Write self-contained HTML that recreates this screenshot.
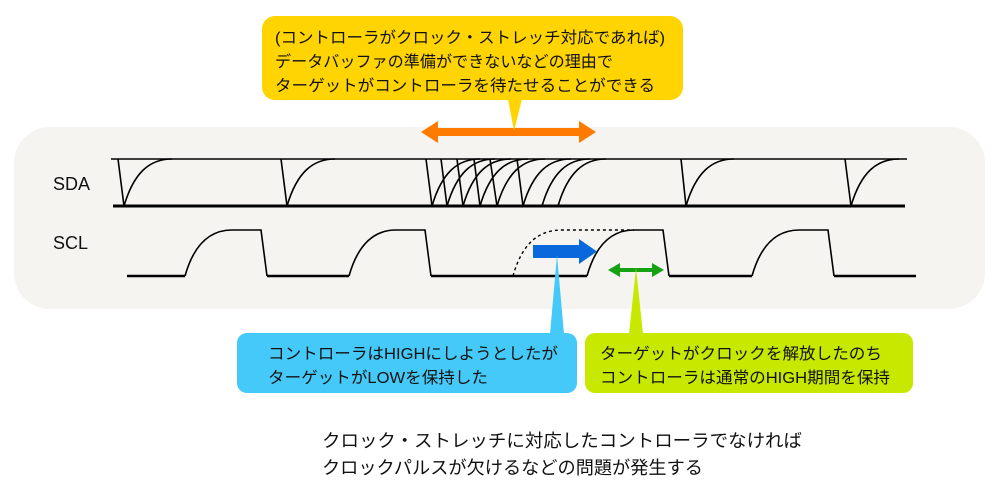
<!DOCTYPE html>
<html><head><meta charset="utf-8"><style>
html,body{margin:0;padding:0;background:#fff;}
svg{display:block;}
text{font-family:"Liberation Sans","Noto Sans CJK JP",sans-serif;fill:#111;}
</style></head><body>
<svg width="999" height="498" viewBox="0 0 999 498" xmlns="http://www.w3.org/2000/svg">
<rect x="14" y="127" width="971" height="182" rx="36" fill="#f5f4f1"/>
<text x="53" y="190" font-size="18">SDA</text>
<text x="53" y="249" font-size="18">SCL</text>
<g fill="none" stroke="#000" stroke-width="1.6">
<line x1="111" y1="159" x2="907" y2="159"/>
<line x1="113" y1="206" x2="905" y2="206" stroke-width="3"/>
<!-- falling lines -->
<path d="M118 159 L124 206 M281 159 L287 206 M426 159 L432 206 M441 159 L447 206 M457 159 L463 206 M474 159 L480 206 M490 159 L497 206 M517 159 L523 206 M681 159 L686 206 M845 159 L851 206"/>
<!-- rising curves -->
<g id="c">
<path d="M124 206 C134 172 150 159 172 159"/>
<path d="M287 206 C297 172 313 159 335 159"/>
<path d="M432 206 C442 172 458 159 480 159"/>
<path d="M447 206 C457 172 473 159 495 159"/>
<path d="M463 206 C473 172 489 159 511 159"/>
<path d="M480 206 C490 172 506 159 528 159"/>
<path d="M497 206 C507 172 523 159 545 159"/>
<path d="M523 206 C533 172 549 159 571 159"/>
<path d="M542 206 C552 172 568 159 590 159"/>
<path d="M558 206 C568 172 584 159 606 159"/>
<path d="M686 206 C696 172 712 159 734 159"/>
<path d="M851 206 C861 172 877 159 899 159"/>
</g>
<!-- SCL -->
<path stroke-width="2.4" d="M127 276 L185 276 M267 276 L349 276 M431 276 L587 276 M669 276 L752 276 M834 276 L916 276"/>
<path d="M185 276 C194 244 210 230 232 230 L261 230 L267 276 M349 276 C358 244 374 230 396 230 L425 230 L431 276 M587 276 C596 244 612 230 634 230 L663 230 L669 276 M752 276 C761 244 777 230 799 230 L828 230 L834 276"/>
<path stroke-dasharray="3,3" stroke-width="1.4" d="M513 276 C522 244 538 230 562 230 L634 230"/>
</g>
<!-- orange arrow -->
<path d="M421 132 L438 121 L438 128 L579 128 L579 121 L596 132 L579 143 L579 136 L438 136 L438 143 Z" fill="#ff7a00"/>
<!-- yellow callout -->
<path d="M508 99 L514 131 L522 99 Z" fill="#ffd400"/>
<rect x="262" y="16" width="421" height="84" rx="13" fill="#ffd400"/>
<text font-size="16"><tspan x="275" y="43" textLength="390" lengthAdjust="spacingAndGlyphs">(コントローラがクロック・ストレッチ対応であれば)</tspan><tspan x="275" y="67" textLength="338" lengthAdjust="spacingAndGlyphs">データバッファの準備ができないなどの理由で</tspan><tspan x="275" y="91" textLength="380" lengthAdjust="spacingAndGlyphs">ターゲットがコントローラを待たせることができる</tspan></text>
<!-- blue arrow -->
<path d="M533 245 L579 245 L579 239 L597 251.5 L579 264 L579 258 L533 258 Z" fill="#0a68dd"/>
<!-- green arrow -->
<path d="M608 270 L620 263 L620 268 L652 268 L652 263 L664 270 L652 277 L652 272 L620 272 L620 277 Z" fill="#15a315"/>
<!-- blue callout -->
<path d="M557 255 L550 334 L564 334 Z" fill="#45c9f8"/>
<rect x="237" y="333" width="340" height="60" rx="10" fill="#45c9f8"/>
<text font-size="16"><tspan x="268" y="359" textLength="290" lengthAdjust="spacingAndGlyphs">コントローラはHIGHにしようとしたが</tspan><tspan x="268" y="383" textLength="220" lengthAdjust="spacingAndGlyphs">ターゲットがLOWを保持した</tspan></text>
<!-- green callout -->
<path d="M636 268 L629 334 L643 334 Z" fill="#c8e800"/>
<rect x="585" y="333" width="328" height="60" rx="10" fill="#c8e800"/>
<text font-size="16"><tspan x="600" y="359" textLength="282" lengthAdjust="spacingAndGlyphs">ターゲットがクロックを解放したのち</tspan><tspan x="600" y="383" textLength="290" lengthAdjust="spacingAndGlyphs">コントローラは通常のHIGH期間を保持</tspan></text>
<!-- bottom text -->
<text font-size="18"><tspan x="322" y="447" textLength="480" lengthAdjust="spacingAndGlyphs">クロック・ストレッチに対応したコントローラでなければ</tspan><tspan x="322" y="474" textLength="381" lengthAdjust="spacingAndGlyphs">クロックパルスが欠けるなどの問題が発生する</tspan></text>
</svg>
</body></html>
